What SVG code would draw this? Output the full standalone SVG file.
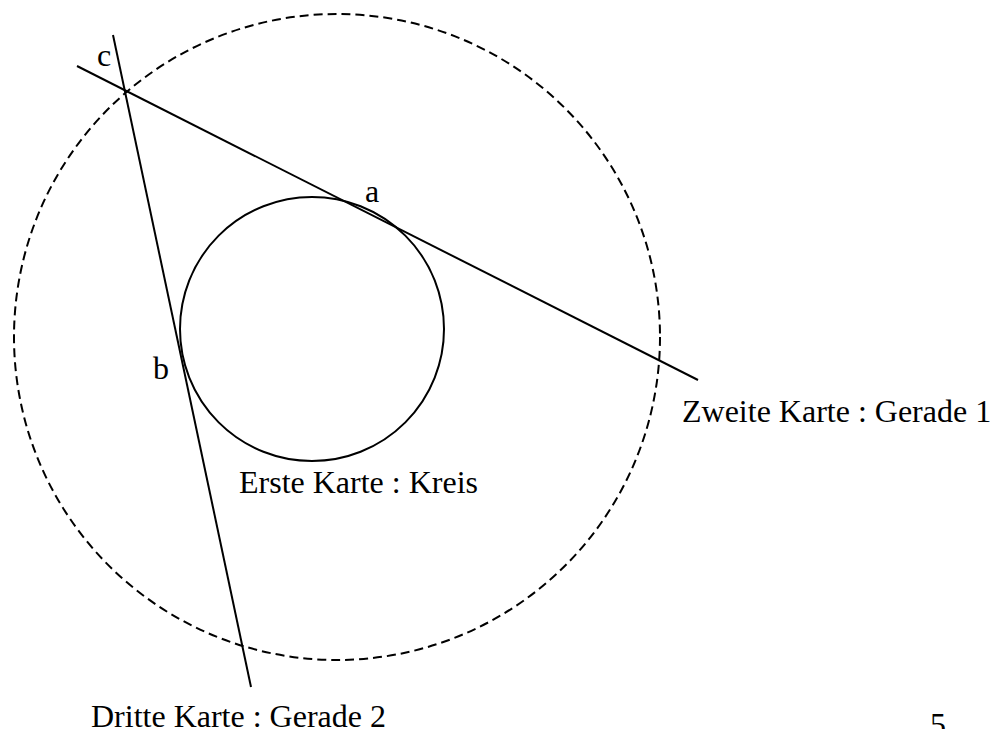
<svg xmlns="http://www.w3.org/2000/svg" width="1001" height="729" viewBox="0 0 1001 729">
<style>
.ln{stroke:#000;stroke-width:2;fill:none}
.dash{stroke:#000;stroke-width:2;fill:none;stroke-dasharray:9 5}
text{font-family:"Liberation Serif",serif;font-size:32px;fill:#000}
</style>
<rect width="1001" height="729" fill="#fff"/>
<g id="outer-circle"><circle class="dash" cx="337" cy="337" r="323"/></g>
<g id="kreis"><circle class="ln" cx="312" cy="329" r="132"/><text x="239" y="493">Erste Karte : Kreis</text></g>
<g id="connectors">
<line class="ln" x1="77" y1="66" x2="698" y2="380"/>
<line class="ln" x1="113" y1="35" x2="251" y2="687"/>
</g>
<g id="gerade1"><text x="682" y="422">Zweite Karte : Gerade 1</text></g>
<g id="gerade2"><text x="91" y="727">Dritte Karte : Gerade 2</text></g>
<g id="label-a"><text x="365" y="202">a</text></g>
<g id="label-b"><text x="153" y="379">b</text></g>
<g id="label-c"><text x="97" y="66">c</text></g>
<g id="page"><text x="930" y="735">5</text></g>
</svg>
